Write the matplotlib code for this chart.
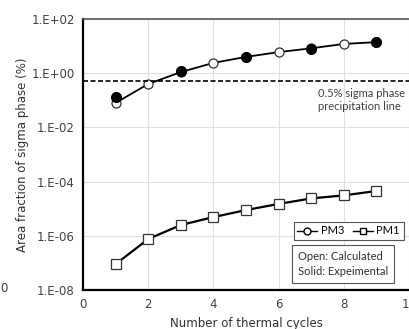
import matplotlib.pyplot as plt
from matplotlib.lines import Line2D

cycles = [1, 2, 3, 4, 5, 6, 7, 8, 9]
pm3_calc = [0.08, 0.4, 1.1, 2.4, 4.0, 6.0, 8.3, 12, 14]
exp_cycles = [1, 3, 5, 7, 9]
pm3_exp = [0.13, 1.2, 4.0, 7.8, 14]
pm1_calc = [9e-8, 7.6e-7, 2.5e-6, 4.9e-6, 8.9e-6, 1.5e-5, 2.4e-5, 3.1e-5, 4.5e-5]
sigma_limit = 0.5

fig = plt.figure(figsize=(4.10, 3.29), dpi=100)
ax = fig.add_axes([83/410, 39/329, 326/410, 271/329])

ax.grid(color='#E0E0E0', linewidth=0.8)
ax.set_axisbelow(True)

ax.plot(cycles, pm3_calc, color='black', linewidth=1.3, marker='o', markersize=6.5,
        markerfacecolor='white', markeredgecolor='#333333', markeredgewidth=0.9)
ax.plot(exp_cycles, pm3_exp, linestyle='none', marker='o', markersize=7,
        markerfacecolor='black', markeredgecolor='black')
ax.plot(cycles, pm1_calc, color='black', linewidth=1.6, marker='s', markersize=6.5,
        markerfacecolor='white', markeredgecolor='#333333', markeredgewidth=0.9)
ax.axhline(sigma_limit, color='black', linestyle=(0, (3, 1.5)), linewidth=1.2)

ax.set_yscale('log')
ax.set_ylim(1e-8, 1e2)
ax.set_xlim(0, 10)
ax.set_xticks([0, 2, 4, 6, 8, 10])
ax.set_yticks([1e-8, 1e-6, 1e-4, 1e-2, 1e0, 1e2])
ax.set_yticklabels(['1.E-08', '1.E-06', '1.E-04', '1.E-02', '1.E+00', '1.E+02'])
ax.minorticks_off()
ax.tick_params(length=0, labelsize=8.5, labelcolor='#404040', pad=6)

ax.spines['left'].set_linewidth(1.6)
ax.spines['bottom'].set_linewidth(1.6)
ax.spines['top'].set_color('#555555')
ax.spines['top'].set_linewidth(1.2)
ax.spines['right'].set_visible(False)

ax.set_xlabel('Number of thermal cycles', fontsize=8.5, color='#303030', labelpad=4)
ax.set_ylabel('Area fraction of sigma phase (%)', fontsize=8.5, color='#303030', labelpad=2)

fig.text(318/410, 1 - 100/329, '0.5% sigma phase\nprecipitation line',
         fontsize=8, family='Lato', color='#404040', va='center', linespacing=1.25)

handles = [Line2D([], [], color='black', marker='o', markersize=5, markerfacecolor='white', linewidth=1),
           Line2D([], [], color='black', marker='s', markersize=5, markerfacecolor='white', linewidth=1)]
leg = ax.legend(handles, ['PM3', 'PM1'], ncol=2, loc='upper left', bbox_to_anchor=(288/410, 1 - 216/329),
                bbox_transform=fig.transFigure, fancybox=False, edgecolor='#555555', framealpha=1,
                prop={'family': 'Lato', 'size': 8}, handlelength=1.8, handletextpad=0.3,
                columnspacing=0.8, borderpad=0.35)
leg.get_frame().set_linewidth(0.8)

fig.text(298/410, 1 - 264/329, 'Open: Calculated\nSolid: Expeimental',
         fontsize=8, family='Lato', color='#303030', va='center', linespacing=1.45,
         bbox=dict(boxstyle='square,pad=0.5', facecolor='white', edgecolor='#555555', linewidth=0.8))

fig.text(0, 1 - 289/329, '0', fontsize=8.5, color='#404040', va='center')

fig.savefig('out.png', dpi=100)
